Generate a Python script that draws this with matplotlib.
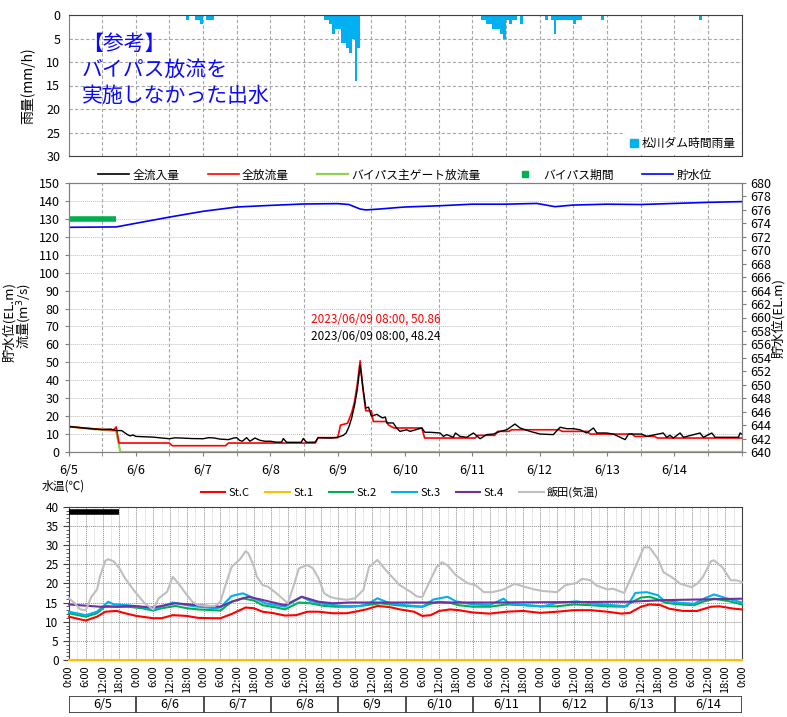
import numpy as np
import matplotlib
matplotlib.use('Agg')
import matplotlib.pyplot as plt
from matplotlib.lines import Line2D
from matplotlib.patches import Patch

plt.rcParams['font.family'] = ['Noto Sans CJK JP', 'DejaVu Sans']

# time axis: hours from 2023/06/05 0:00, 10 days
day_labels = ['6/5', '6/6', '6/7', '6/8', '6/9', '6/10', '6/11', '6/12', '6/13', '6/14']
t_end = 240

# 松川ダム時間雨量 (mm/h)
rain_hours = [42, 45, 46, 47, 49, 50, 51,
              91, 92, 93, 94, 95, 96, 97, 98, 99, 100, 101, 102, 103,
              147, 148, 149, 150, 151, 152, 153, 154, 155, 156, 157, 158, 159, 161,
              170, 172, 173, 174, 175, 176, 177, 178, 179, 180, 181, 182,
              190, 225]
rain_mm = [1, 1, 1, 2, 1, 1, 1,
           1, 1, 2, 4, 3, 3, 6, 6, 7, 8, 5, 14, 7,
           1, 1, 2, 2, 3, 3, 3, 4, 5, 1, 2, 1, 1, 2,
           1, 1, 4, 1, 1, 1, 1, 1, 1, 2, 1, 1,
           1, 1]

# 全流入量 (m3/s)
inflow_h = [0, 6, 12, 15, 17, 19, 21, 22, 23, 24, 30, 36, 38, 40, 44, 48, 50, 52, 54, 57,
            59, 60, 61, 62, 63.5, 64.7, 66.5, 68.3, 70, 72, 74, 76, 76.6, 77.8, 83, 83.7, 84.9,
            88, 89, 92, 94, 96, 98, 99, 100, 101, 102, 103, 104, 105, 106, 107, 108, 109, 110,
            111, 112, 113, 113.5, 115.8, 117, 118.2, 120.6, 121.8, 126, 127.1, 128.9, 132.5,
            133.7, 134.9, 137.2, 138, 139.6, 142, 144.4, 146.8, 149.1, 151.5, 153.9, 156.3,
            159.2, 161, 164.6, 168.2, 172.9, 175.3, 177.7, 180, 182.4, 184.8, 187.2, 188.4,
            191.9, 194.3, 198.5, 199.7, 201.4, 204.4, 206.2, 212.1, 213.3, 214.5, 215.7, 218.1,
            219.3, 225.2, 226.4, 229.4, 230.6, 238.9, 239.5, 240]
inflow = [14.2, 13.3, 12.4, 12.8, 12.0, 11.9, 9.7, 9.0, 9.5, 8.7, 8.3, 7.4, 7.9, 7.8, 7.5, 7.4,
          8.0, 7.8, 7.2, 6.9, 7.8, 8.0, 6.5, 6.0, 8.0, 6.0, 7.8, 6.5, 6.0, 6.0, 5.5, 5.5, 7.5,
          5.4, 5.4, 7.5, 5.4, 5.5, 8.0, 7.8, 7.8, 8.2, 9.3, 10.6, 14, 19, 26, 35, 48.24, 36,
          24.5, 25, 20, 20.5, 21, 19.9, 19, 19.5, 16.2, 16.2, 13.4, 11.5, 12.4, 11.5, 13.4, 11,
          11, 10.6, 8.7, 9.7, 8.2, 10.6, 8.7, 8.2, 10.6, 7.4, 9.7, 10, 11.5, 12.4, 15.6, 13.4,
          11.5, 10, 9.7, 13.8, 13, 13, 12.4, 10.6, 13.4, 10.6, 10.6, 10, 6.9, 10, 10, 10, 8.7,
          10.6, 8.2, 9.3, 7.8, 10.6, 8.2, 10.6, 8.2, 10.6, 8.2, 8.2, 10.6, 10]

# 全放流量 (m3/s)
outflow_h = [0, 6, 12, 16, 17, 18, 36, 37, 56, 57, 88, 89, 96, 97, 99.5, 101, 102, 103, 104,
             105, 106, 108, 108.7, 113.5, 114, 116, 126, 127, 145, 146, 152, 153, 157, 158,
             175, 176, 185, 186, 201, 202, 209, 210, 240]
outflow = [14.2, 13.3, 12.6, 12.2, 14.0, 5.0, 5.0, 3.5, 3.5, 5.0, 5.0, 8.0, 8.0, 15, 16, 22,
           28, 38, 50.86, 35, 23, 23, 17, 17, 15.2, 13.4, 13.4, 7.8, 7.8, 9.3, 9.3, 11.5, 11.5,
           12.4, 12.4, 11.5, 11.5, 10.0, 10.0, 8.7, 8.7, 7.8, 7.8]

# バイパス主ゲート放流量 (m3/s)
bypass_h = [0, 6, 10, 12, 14, 16, 17, 18.5, 240]
bypass = [14.2, 13.2, 12.6, 12.8, 12.3, 11.8, 11.5, 0, 0]

# バイパス期間 (hours)
bypass_period = [0, 17]

# 貯水位 (EL.m)
level_h = [0, 17, 36, 48, 60, 72, 84, 96, 100, 104, 106, 110, 118, 120, 132, 144, 156, 167,
           173.5, 180, 192, 204, 216, 228, 240]
level = [673.41, 673.47, 674.93, 675.79, 676.43, 676.67, 676.88, 676.93, 676.8, 676.13, 676.0,
         676.1, 676.37, 676.43, 676.61, 676.85, 676.85, 676.96, 676.48, 676.72, 676.85, 676.8,
         676.96, 677.12, 677.23]

# 水温 (℃)
stc_h = [0, 4, 6, 10, 13, 17, 20, 24, 30, 33, 37, 42, 46, 51, 54, 58, 63, 66, 69, 73, 77, 81,
         85, 89, 94, 99, 102, 106, 110, 113, 115, 118, 123, 126, 129, 132, 136, 139, 144, 150,
         156, 162, 168, 174, 180, 186, 192, 197, 200, 204, 207, 211, 214, 219, 224, 229, 232,
         237, 240]
stc = [11.3, 10.6, 10.3, 11.3, 12.6, 12.8, 12.2, 11.5, 10.9, 10.9, 11.7, 11.5, 11.0, 10.9, 10.9,
       12.0, 13.7, 13.5, 12.6, 12.2, 11.6, 11.7, 12.6, 12.6, 12.2, 12.2, 12.6, 13.2, 14.1, 13.9,
       13.7, 13.2, 12.6, 11.5, 11.7, 12.8, 13.2, 13.0, 12.4, 12.1, 12.6, 12.8, 12.3, 12.6, 13.0,
       13.0, 12.6, 12.1, 12.3, 13.9, 14.5, 14.3, 13.4, 12.8, 12.8, 13.9, 14.0, 13.4, 13.2]

st1_h = [0, 240]
st1 = [0, 0]

st2_h = [0, 6, 10, 13, 17, 21, 26, 30, 33, 38, 42, 46, 54, 58, 62, 66, 69, 74, 77, 82, 86, 91,
         95, 101, 106, 111, 117, 122, 126, 129, 132, 136, 139, 144, 150, 156, 162, 168, 174,
         180, 186, 192, 198, 201, 204, 207, 210, 213, 218, 223, 226, 230, 235, 240]
st2 = [12.2, 11.3, 12.2, 14.1, 13.9, 13.9, 13.5, 12.9, 13.5, 14.1, 13.5, 13.2, 12.9, 15.2, 16.1,
       15.5, 14.3, 13.7, 13.2, 15.0, 14.8, 14.1, 13.9, 13.9, 14.3, 14.8, 14.3, 14.0, 13.9, 14.7,
       15.2, 14.9, 14.3, 13.9, 13.9, 14.5, 14.3, 14.0, 14.0, 14.5, 14.3, 14.0, 13.9, 15.2, 16.3,
       16.5, 15.8, 14.9, 14.5, 14.3, 15.2, 16.0, 15.4, 14.5]

st3_h = [0, 6, 10, 12, 14, 16, 21, 27, 30, 33, 37, 42, 46, 52, 54, 58, 62, 66, 70, 77, 83, 86,
         92, 98, 104, 107, 110, 113, 115, 120, 126, 130, 135, 138, 144, 150, 155, 157, 163, 169,
         174, 181, 187, 194, 199, 202, 206, 210, 212, 218, 223, 227, 230, 235, 240]
st3 = [12.6, 11.7, 12.6, 13.9, 15.2, 14.5, 14.3, 13.7, 13.2, 13.9, 15.0, 14.3, 13.9, 13.5, 13.7,
       16.7, 17.4, 16.1, 14.8, 13.9, 16.5, 15.4, 14.5, 14.1, 14.1, 14.8, 16.1, 15.2, 14.7, 14.3,
       13.9, 15.8, 16.5, 15.3, 14.5, 14.3, 16.0, 14.7, 14.3, 14.0, 14.9, 15.3, 14.7, 14.3, 14.0,
       17.5, 17.7, 16.9, 15.6, 14.9, 14.7, 16.2, 17.1, 16.0, 15.0]

st4_h = [0, 11, 17, 23, 30, 38, 46, 54, 58, 64, 70, 77, 83, 89, 94, 100, 118, 150, 200, 211, 240]
st4 = [14.5, 13.9, 13.9, 14.1, 13.7, 14.8, 14.3, 13.9, 15.2, 16.5, 15.5, 14.3, 16.5, 15.2, 14.8,
       15.0, 15.0, 15.0, 15.2, 15.6, 16.0]

iida_h = [0, 2, 4, 6, 8, 10, 11, 13, 14, 16, 18, 20, 23, 25, 27, 30, 32, 35, 37, 39, 42, 44, 46,
          49, 52, 54, 56, 58, 61, 63, 64, 66, 67, 69, 71, 74, 76, 78, 80, 82, 85, 87, 89, 91,
          93, 95, 99, 102, 105, 107, 110, 112, 114, 118, 122, 124, 126, 128, 131, 133, 135,
          138, 142, 145, 148, 151, 155, 159, 162, 166, 169, 174, 177, 181, 183, 186, 188, 192,
          194, 198, 200, 203, 205, 207, 210, 212, 215, 218, 222, 224, 226, 229, 230, 233, 236,
          238, 240]
iida = [16.1, 14.8, 13.2, 13.0, 16.5, 18.4, 21.7, 25.9, 26.3, 25.7, 23.9, 21.3, 18.3, 16.5, 14.8,
        13.2, 16.1, 17.8, 21.7, 20.0, 17.0, 15.2, 14.3, 14.1, 14.1, 15.2, 20.0, 24.3, 26.3, 28.4,
        27.8, 24.3, 21.7, 19.6, 19.1, 17.4, 16.1, 14.8, 19.1, 23.9, 24.8, 23.9, 21.3, 17.4, 16.5,
        16.1, 15.7, 16.1, 18.3, 24.3, 26.1, 24.3, 22.6, 19.5, 17.7, 16.6, 16.4, 19.5, 24.2, 25.5,
        24.7, 22.1, 20.1, 19.5, 17.7, 17.7, 18.4, 19.9, 19.2, 18.4, 18.0, 17.7, 19.5, 20.1, 21.2,
        20.8, 19.5, 18.4, 18.6, 17.5, 20.8, 26.0, 29.4, 29.4, 26.4, 22.9, 21.6, 19.9, 19.0, 19.9,
        21.6, 25.8, 26.0, 24.2, 20.8, 20.8, 20.3]

temp_period = [0, 18]

W, H = 787, 717


def px_box(x0, y0, x1, y1):
    # pixel box (top-left origin) -> figure fraction rect
    return [x0 / W, 1 - y1 / H, (x1 - x0) / W, (y1 - y0) / H]


fig = plt.figure(figsize=(W / 100, H / 100), dpi=100)
spine_c = '#7F7F7F'
grid_c = '#A6A6A6'
tick_fs = 9

# ---------- 雨量 ----------
ax_r = fig.add_axes(px_box(68.5, 15, 741.5, 156))
ax_r.bar(rain_hours, rain_mm, width=1, align='edge', color='#00B0F0', label='松川ダム時間雨量')
ax_r.set_xlim(0, t_end)
ax_r.set_ylim(30, 0)
ax_r.set_yticks(range(0, 31, 5))
ax_r.set_xticks(range(0, t_end + 1, 12))
ax_r.tick_params(axis='x', length=0, labelbottom=False)
ax_r.tick_params(axis='y', length=0, labelsize=tick_fs, pad=6)
ax_r.grid(True, color=grid_c, linestyle=(0, (3, 2)), linewidth=0.8)
ax_r.set_axisbelow(True)
for s in ax_r.spines.values():
    s.set_color('#404040')
ax_r.spines['left'].set_color(spine_c)
ax_r.set_ylabel('雨量(mm/h)', fontsize=10, labelpad=8)
ax_r.text(0.02, 0.875, '【参考】\nバイパス放流を\n実施しなかった出水', transform=ax_r.transAxes,
          color='#0A0AFF', fontsize=15, va='top', ha='left', linespacing=1.25)
leg_r = ax_r.legend(handles=[Patch(color='#00B0F0', label='松川ダム時間雨量')],
                    loc='lower right', fontsize=8.5, frameon=True, handlelength=0.7,
                    handleheight=0.7, handletextpad=0.3, borderaxespad=0.1, borderpad=0.4)
leg_r.get_frame().set_facecolor('white')
leg_r.get_frame().set_edgecolor('none')
leg_r.get_frame().set_alpha(1)

# ---------- 流量・貯水位 ----------
ax_q = fig.add_axes(px_box(68.5, 183, 741.5, 452))
ax_q.plot(bypass_h, bypass, color='#92D050', lw=1.6, zorder=2)
ax_q.plot(outflow_h, outflow, color='#FF0000', lw=1.2, zorder=3)
ax_q.plot(inflow_h, inflow, color='black', lw=1.0, zorder=4)
ax_q.plot(bypass_period, [130, 130], color='#00B050', lw=4, solid_capstyle='butt', zorder=3)
ax_q.set_xlim(0, t_end)
ax_q.set_ylim(0, 150)
ax_q.set_yticks(range(0, 151, 10))
ax_q.set_xticks(range(0, t_end, 24))
ax_q.set_xticklabels(day_labels)
ax_q.set_xticks(range(0, t_end + 1, 12), minor=True)
ax_q.tick_params(axis='x', which='both', length=3, color=spine_c, labelsize=tick_fs, pad=6)
ax_q.tick_params(axis='y', length=3, color=spine_c, labelsize=tick_fs)
ax_q.grid(True, axis='x', which='minor', color=grid_c, linestyle=(0, (3, 2)), linewidth=0.8)
ax_q.grid(True, axis='y', color='#BFBFBF', linestyle=(0, (1, 1)), linewidth=0.7)
ax_q.set_axisbelow(True)
for s in ax_q.spines.values():
    s.set_color(spine_c)

ax_el = ax_q.twinx()
ax_el.plot(level_h, level, color='#0000FF', lw=1.2)
ax_el.set_ylim(640, 680)
ax_el.set_yticks(range(640, 681, 2))
ax_el.tick_params(axis='y', length=3, color=spine_c, labelsize=tick_fs)
for s in ax_el.spines.values():
    s.set_color(spine_c)

peak_out = max(outflow)
peak_in = max(inflow)
ax_q.text(109.5, 74, f'2023/06/09 08:00, {peak_out:.2f}', color='#FF0000', fontsize=8.5,
          ha='center', va='center')
ax_q.text(109.5, 64.5, f'2023/06/09 08:00, {peak_in:.2f}', color='black', fontsize=8.5,
          ha='center', va='center')

q_handles = [Line2D([], [], color='black', lw=1.2, label='全流入量'),
             Line2D([], [], color='#FF0000', lw=1.2, label='全放流量'),
             Line2D([], [], color='#92D050', lw=1.6, label='バイパス主ゲート放流量'),
             Line2D([], [], color='#00B050', lw=0, marker='s', markersize=4.5, label='バイパス期間'),
             Line2D([], [], color='#0000FF', lw=1.2, label='貯水位')]
fig.legend(handles=q_handles, loc='center', bbox_to_anchor=(405 / W, 1 - 175 / H), ncol=5,
           frameon=False, fontsize=8.5, handlelength=2.6, handletextpad=0.3, columnspacing=2.4)

fig.text(9 / W, 1 - 322 / H, '貯水位(EL.m)', rotation=90, fontsize=9.5, ha='center', va='center')
fig.text(25 / W, 1 - 316 / H, '流量(m$^3$/s)', rotation=90, fontsize=9.5, ha='center', va='center')
fig.text(778 / W, 1 - 318 / H, '貯水位(EL.m)', rotation=90, fontsize=9.5, ha='center', va='center')

# ---------- 水温 ----------
ax_t = fig.add_axes(px_box(69, 506.7, 742, 660))
temp_series = [(stc_h, stc, '#FF0000', 'St.C'),
               (st1_h, st1, '#FFC000', 'St.1'),
               (st2_h, st2, '#00B050', 'St.2'),
               (st3_h, st3, '#00B0F0', 'St.3'),
               (st4_h, st4, '#7030A0', 'St.4'),
               (iida_h, iida, '#BFBFBF', '飯田(気温)')]
for hh, vv, col, lab in temp_series:
    ax_t.plot(hh, vv, color=col, lw=1.5, label=lab, clip_on=False, zorder=3)
ax_t.plot(temp_period, [38.5, 38.5], color='black', lw=4, solid_capstyle='butt', zorder=4)
ax_t.set_xlim(0, t_end)
ax_t.set_ylim(0, 40)
ax_t.set_yticks(range(0, 41, 5))
ax_t.set_yticks(range(0, 41, 1), minor=True)
ax_t.set_xticks(range(0, t_end + 1, 6))
ax_t.set_xticklabels([f'{(h % 24)}:00' for h in range(0, t_end + 1, 6)], rotation=90)
ax_t.set_xticks(range(0, t_end + 1, 3), minor=True)
ax_t.tick_params(axis='x', which='both', length=0, labelsize=8, pad=4)
ax_t.tick_params(axis='y', which='major', length=4, color='#404040', labelsize=8.5)
ax_t.tick_params(axis='y', which='minor', length=2, color='#404040')
ax_t.grid(True, which='major', color='#8C8C8C', linestyle=(0, (1, 1)), linewidth=0.7)
ax_t.grid(True, axis='x', which='minor', color='#C8C8C8', linestyle=(0, (1, 1)), linewidth=0.6)
ax_t.set_axisbelow(True)
for s in ax_t.spines.values():
    s.set_color('#404040')
fig.legend(handles=ax_t.get_lines()[:6], loc='center', bbox_to_anchor=(400 / W, 1 - 492 / H),
           ncol=6, frameon=False, fontsize=8, handlelength=2.2, handletextpad=0.3,
           columnspacing=1.4)
fig.text(42 / W, 1 - 486 / H, '水温(℃)', fontsize=8.5, ha='left', va='center')

# date row under the time labels
ax_d = fig.add_axes(px_box(69, 696, 742, 713))
ax_d.set_xlim(0, t_end)
ax_d.set_ylim(0, 1)
ax_d.axis('off')
ax_d.hlines([0, 1], 0, t_end, color='#404040', lw=1.3)
ax_d.vlines(range(0, t_end + 1, 24), 0, 1, color='#404040', lw=1.3)
for i, lab in enumerate(day_labels):
    ax_d.text(i * 24 + 12, 0.5, lab, ha='center', va='center', fontsize=9)

fig.savefig('out.png', dpi=100)
